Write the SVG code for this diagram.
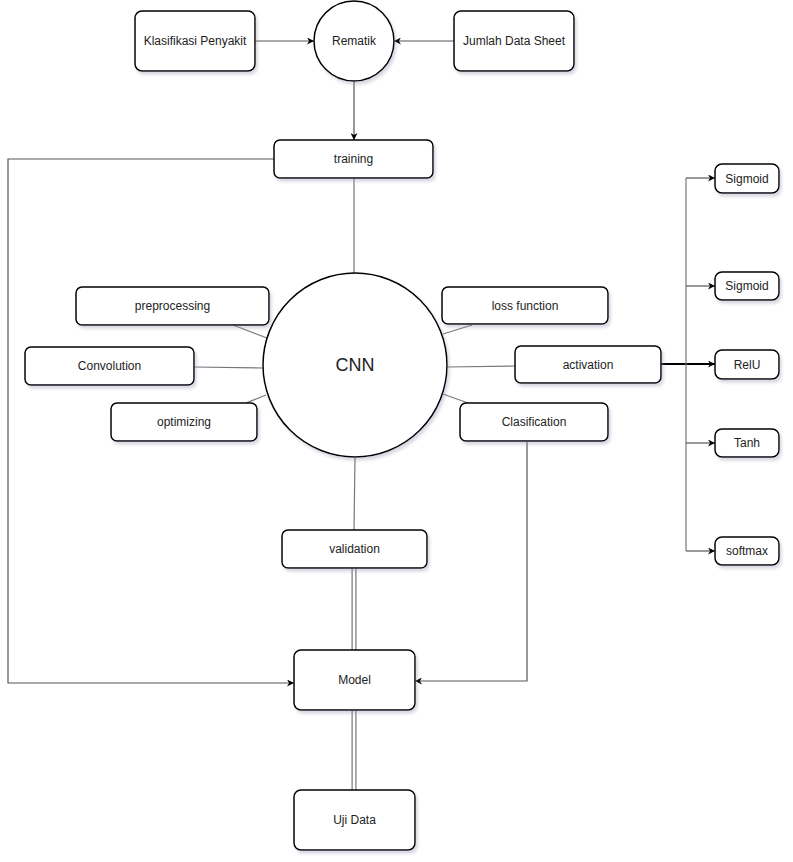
<svg xmlns="http://www.w3.org/2000/svg" width="793" height="862" viewBox="0 0 793 862">
<defs>
<marker id="arr" viewBox="0 0 10 10" refX="10" refY="5" markerWidth="7" markerHeight="7" markerUnits="userSpaceOnUse" orient="auto"><path d="M0,0 L10,5 L0,10 L3,5 Z" fill="#000"/></marker>
<filter id="sh" x="-10%" y="-10%" width="130%" height="140%"><feDropShadow dx="2" dy="3" stdDeviation="1.5" flood-color="#9090b0" flood-opacity="0.35"/></filter>
</defs>
<style>
.n{fill:#fff;stroke:#000;stroke-width:1.5;filter:url(#sh)}
.t{font-family:"Liberation Sans",Arial,sans-serif;font-size:12px;fill:#222;text-anchor:middle;dominant-baseline:central}
.c{fill:none;stroke:#777;stroke-width:1.2}
.ca{fill:none;stroke:#555;stroke-width:1.2;marker-end:url(#arr)}
.dbl{fill:none;stroke:#777;stroke-width:5}
.dbi{fill:none;stroke:#fff;stroke-width:2.6}
</style>
<rect width="793" height="862" fill="#fff"/>
<g id="connectors">
<path class="ca" d="M255,41 L314,41"/>
<path class="ca" d="M454,41 L394,41"/>
<path class="ca" d="M354,81 L354,140"/>
<path class="c" d="M354,178 L354,273"/>
<path class="ca" d="M274,159 L8,159 L8,683 L294,683"/>
<path class="c" d="M233,325 L267,338"/>
<path class="c" d="M194,367 L263,368"/>
<path class="c" d="M246,403 L266,395"/>
<path class="c" d="M472,325 L443,334"/>
<path class="c" d="M447,367 L515,366"/>
<path class="c" d="M443,394 L468,403"/>
<path class="c" d="M355,458 L354,530"/>
<path class="dbl" d="M354,568 L354,650"/>
<path class="dbi" d="M354,568 L354,650"/>
<path class="dbl" d="M354,710 L354,790"/>
<path class="dbi" d="M354,710 L354,790"/>
<path class="ca" d="M527,442 L527,681 L415,681"/>
<path d="M661,364 L715,364" fill="none" stroke="#000" stroke-width="2" marker-end="url(#arr)"/>
<path class="c" d="M686,178 L686,551"/>
<path class="ca" d="M686,178 L715,178"/>
<path class="ca" d="M686,286 L715,286"/>
<path class="ca" d="M686,443 L715,443"/>
<path class="ca" d="M686,551 L715,551"/>
</g>
<g id="klasifikasi"><rect class="n" x="135" y="11" width="120" height="60" rx="7"/><text class="t" x="195" y="41">Klasifikasi Penyakit</text></g>
<g id="rematik"><circle class="n" cx="354" cy="41" r="40"/><text class="t" x="354" y="41">Rematik</text></g>
<g id="jumlah"><rect class="n" x="454" y="11" width="120" height="60" rx="7"/><text class="t" x="514" y="41">Jumlah Data Sheet</text></g>
<g id="training"><rect class="n" x="274" y="140" width="159" height="38" rx="6"/><text class="t" x="353.5" y="159">training</text></g>
<g id="cnn"><circle class="n" cx="355" cy="365" r="92"/><text class="t" x="355" y="365" style="font-size:18px">CNN</text></g>
<g id="preprocessing"><rect class="n" x="76" y="287" width="193" height="38" rx="6"/><text class="t" x="172.5" y="306">preprocessing</text></g>
<g id="convolution"><rect class="n" x="25" y="347" width="169" height="38" rx="6"/><text class="t" x="109.5" y="366">Convolution</text></g>
<g id="optimizing"><rect class="n" x="111" y="403" width="146" height="38" rx="6"/><text class="t" x="184" y="422">optimizing</text></g>
<g id="loss"><rect class="n" x="442" y="287" width="166" height="37" rx="6"/><text class="t" x="525" y="305.5">loss function</text></g>
<g id="activation"><rect class="n" x="515" y="346" width="146" height="37" rx="6"/><text class="t" x="588" y="364.5">activation</text></g>
<g id="clasification"><rect class="n" x="460" y="403" width="148" height="38" rx="6"/><text class="t" x="534" y="422">Clasification</text></g>
<g id="validation"><rect class="n" x="282" y="530" width="145" height="38" rx="6"/><text class="t" x="354.5" y="549">validation</text></g>
<g id="model"><rect class="n" x="294" y="650" width="121" height="60" rx="7"/><text class="t" x="354.5" y="680">Model</text></g>
<g id="ujidata"><rect class="n" x="294" y="790" width="121" height="60" rx="7"/><text class="t" x="354.5" y="820">Uji Data</text></g>
<g id="sigmoid1"><rect class="n" x="715" y="164" width="64" height="29" rx="7"/><text class="t" x="747" y="178.5">Sigmoid</text></g>
<g id="sigmoid2"><rect class="n" x="715" y="272" width="64" height="28" rx="7"/><text class="t" x="747" y="286">Sigmoid</text></g>
<g id="relu"><rect class="n" x="715" y="350" width="64" height="29" rx="7"/><text class="t" x="747" y="364.5">RelU</text></g>
<g id="tanh"><rect class="n" x="715" y="429" width="64" height="28" rx="7"/><text class="t" x="747" y="443">Tanh</text></g>
<g id="softmax"><rect class="n" x="715" y="537" width="64" height="28" rx="7"/><text class="t" x="747" y="551">softmax</text></g>
</svg>
